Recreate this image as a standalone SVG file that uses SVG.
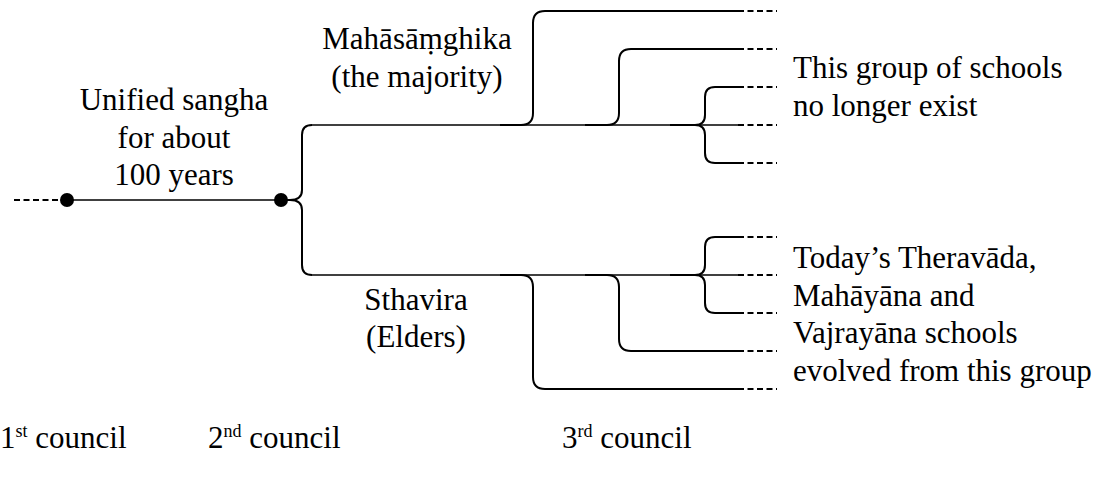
<svg xmlns="http://www.w3.org/2000/svg" width="1104" height="477" viewBox="0 0 1104 477">
<style>
  text { font-family: "Liberation Serif", "Times New Roman", "DejaVu Serif", serif; font-size: 31px; fill: #000; }
  .mid { text-anchor: middle; }
  .ln { fill: none; stroke: #000; stroke-width: 2; stroke-linecap: butt; }
  .trunk { fill: none; stroke: #000; stroke-width: 1.7; }
  .dash { fill: none; stroke: #000; stroke-width: 1.8; stroke-dasharray: 6 3.5; }
  .sup { font-size: 18px; }
</style>
<rect width="1104" height="477" fill="#fff"/>
<g id="connectors">
  <path class="dash" d="M14,200 H60"/>
  <path class="trunk" d="M67,200 H281"/>
  <path class="ln" d="M281,200 H290 Q302,200 302,190 V135 Q302,125 312,125"/>
  <path class="ln" d="M290,200 Q302,200 302,210 V265 Q302,275 312,275"/>
  <path class="trunk" d="M312,125 H738"/>
  <path class="trunk" d="M312,275 H738"/>
  <path class="ln" d="M500,125 H521 Q533,125 533,113 V23 Q533,11 545,11 H738"/>
  <path class="ln" d="M585,125 H607 Q619,125 619,113 V61 Q619,49 631,49 H738"/>
  <path class="ln" d="M670,125 H695 Q705,125 705,115 V97 Q705,87 715,87 H738"/>
  <path class="ln" d="M695,125 Q705,125 705,135 V153 Q705,163 715,163 H738"/>
  <path class="ln" d="M500,275 H521 Q533,275 533,287 V377 Q533,389 545,389 H738"/>
  <path class="ln" d="M585,275 H607 Q619,275 619,287 V339 Q619,351 631,351 H738"/>
  <path class="ln" d="M670,275 H695 Q705,275 705,265 V247 Q705,237 715,237 H738"/>
  <path class="ln" d="M695,275 Q705,275 705,285 V303 Q705,313 715,313 H738"/>
  <path class="dash" d="M738,11 H777 M738,49 H777 M738,87 H777 M738,125 H777 M738,163 H777"/>
  <path class="dash" d="M738,237 H777 M738,275 H777 M738,313 H777 M738,351 H777 M738,389 H777"/>
</g>
<g id="council1">
  <circle cx="67" cy="200" r="7" fill="#000"/>
</g>
<g id="council2">
  <circle cx="281" cy="200" r="7" fill="#000"/>
</g>
<g font-family="'Liberation Serif', 'Times New Roman', serif">
<g id="unified">
  <text class="mid" x="174" y="110">Unified sangha</text>
  <text class="mid" x="174" y="148">for about</text>
  <text class="mid" x="174" y="185">100 years</text>
</g>
<g id="mahasamghika">
  <text class="mid" x="417" y="49">Mahāsāṃghika</text>
  <text class="mid" x="417" y="87">(the majority)</text>
</g>
<g id="sthavira">
  <text class="mid" x="416" y="310">Sthavira</text>
  <text class="mid" x="416" y="347">(Elders)</text>
</g>
<g id="note-extinct">
  <text x="793" y="78">This group of schools</text>
  <text x="793" y="116">no longer exist</text>
</g>
<g id="note-today">
  <text x="793" y="268">Today’s Theravāda,</text>
  <text x="793" y="305.5">Mahāyāna and</text>
  <text x="793" y="343">Vajrayāna schools</text>
  <text x="793" y="380.5">evolved from this group</text>
</g>
<g id="council-labels">
  <text x="0" y="448">1<tspan class="sup" dy="-11">st</tspan><tspan dy="11"> council</tspan></text>
  <text x="208" y="448">2<tspan class="sup" dy="-11">nd</tspan><tspan dy="11"> council</tspan></text>
  <text x="562" y="448">3<tspan class="sup" dy="-11">rd</tspan><tspan dy="11"> council</tspan></text>
</g>
</g>
</svg>
